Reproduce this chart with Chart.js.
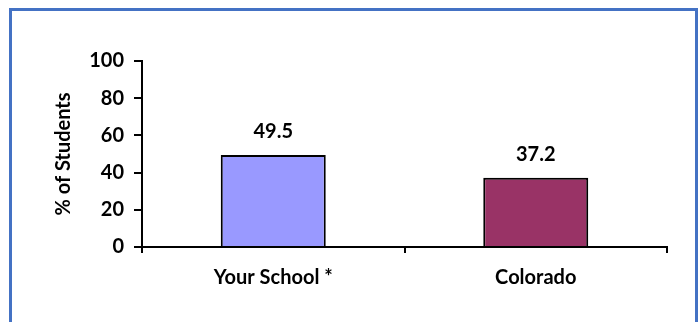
<!DOCTYPE html>
<html>
<head>
<meta charset="utf-8">
<script src="https://cdn.jsdelivr.net/npm/chart.js@4.4.0/dist/chart.umd.min.js"></script>
<style>
  html, body { margin: 0; padding: 0; background: #fff; }
  #wrap { position: relative; width: 700px; height: 322px; overflow: hidden; }
  #frame {
    position: absolute; left: 9px; top: 8px; width: 683px; height: 330px;
    border: 3px solid #4472C4; box-sizing: content-box;
  }
  #c { position: absolute; left: 0; top: 0; }
</style>
</head>
<body>
<div id="wrap">
  <div id="frame"></div>
  <canvas id="c" width="700" height="322"></canvas>
</div>
<script>
const categories = ['Your School *', 'Colorado'];
const values = [49.5, 37.2];
const barColors = ['#9999FF', '#993366'];
const yTicks = [0, 20, 40, 60, 80, 100];

const FONT = { family: 'Lato, "Open Sans", sans-serif', size: 20, weight: 'bold' };

// etiquetas de valor encima de cada barra
const valueLabels = {
  id: 'valueLabels',
  afterDatasetsDraw(chart) {
    const ctx = chart.ctx;
    const meta = chart.getDatasetMeta(0);
    ctx.save();
    ctx.font = 'bold 20px ' + FONT.family;
    ctx.fillStyle = '#000';
    ctx.textAlign = 'center';
    ctx.textBaseline = 'middle';
    meta.data.forEach((bar, i) => {
      ctx.fillText(values[i].toFixed(1), bar.x, bar.y - 23);
    });
    ctx.restore();
  }
};

new Chart(document.getElementById('c').getContext('2d'), {
  type: 'bar',
  data: {
    labels: categories,
    datasets: [{
      data: values,
      backgroundColor: barColors,
      borderColor: '#000',
      borderWidth: 2,
      categoryPercentage: 0.8,
      barPercentage: 0.5,
    }],
  },
  options: {
    responsive: false,
    animation: false,
    layout: { padding: { left: 52, right: 33, top: 61, bottom: 0 } },
    plugins: {
      legend: { display: false },
      tooltip: { enabled: false },
    },
    scales: {
      x: {
        grid: { display: true, drawOnChartArea: false, drawTicks: true, tickLength: 6, tickColor: '#000', lineWidth: 2, offset: true },
        border: { color: '#000', width: 2 },
        ticks: { color: '#000', font: FONT, padding: 13 },
        afterFit(scale) { scale.height = 322 - 247; },
      },
      y: {
        min: 0,
        max: 100,
        afterBuildTicks(scale) { scale.ticks = yTicks.map(v => ({ value: v })); },
        grid: { display: true, drawOnChartArea: false, drawTicks: true, tickLength: 8, tickColor: '#000', lineWidth: 2 },
        border: { color: '#000', width: 2 },
        ticks: { color: '#000', font: FONT, padding: 10 },
        title: { display: true, text: '% of Students', color: '#000', font: FONT, padding: 0 },
        afterFit(scale) { scale.width = 142 - 52; },
      },
    },
  },
  plugins: [valueLabels],
});
</script>
</body>
</html>
